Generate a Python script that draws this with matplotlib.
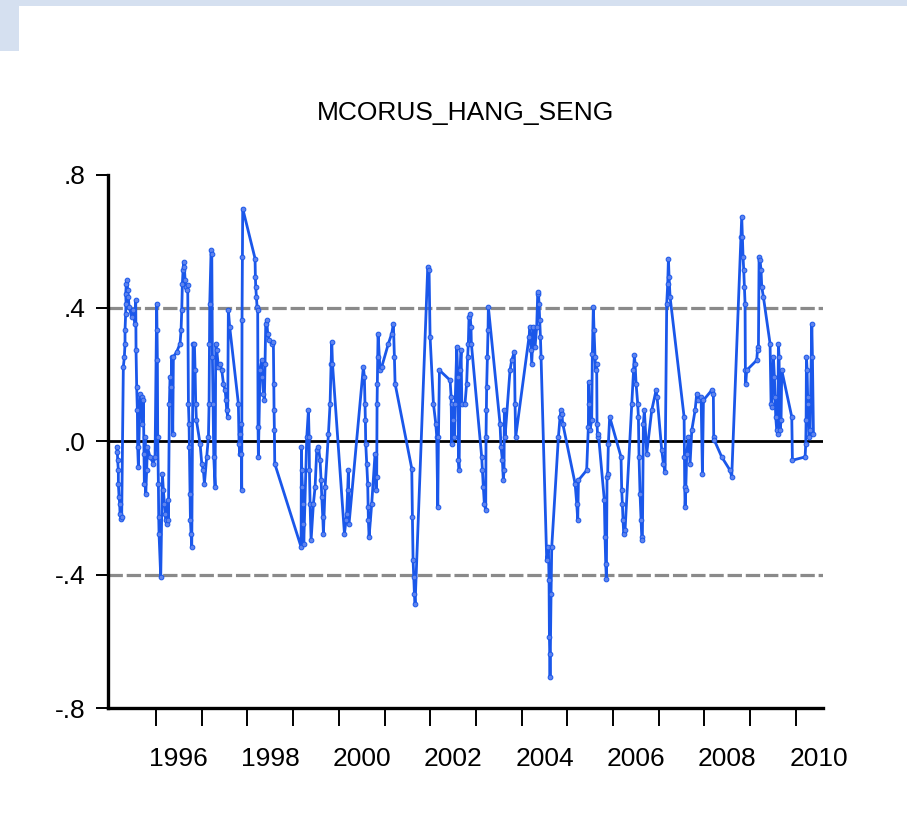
import matplotlib
matplotlib.use("Agg")
import matplotlib.pyplot as plt
from matplotlib.patches import Rectangle
from matplotlib.ticker import FixedLocator, NullFormatter

# MCORUS_HANG_SENG (decimal year, value)
t = [
    1995.139, 1995.154, 1995.161, 1995.176, 1995.176, 1995.191, 1995.205, 1995.212, 1995.234, 1995.249,
    1995.285, 1995.307, 1995.322, 1995.322, 1995.337, 1995.344, 1995.337, 1995.351, 1995.366, 1995.380,
    1995.395, 1995.410, 1995.468, 1995.504, 1995.541, 1995.556, 1995.563, 1995.577, 1995.592, 1995.599,
    1995.614, 1995.650, 1995.687, 1995.702, 1995.723, 1995.738, 1995.745, 1995.760, 1995.775, 1995.796,
    1995.811, 1995.869, 1995.942, 1995.979, 1996.015, 1996.023, 1996.030, 1996.037, 1996.052, 1996.059,
    1996.066, 1996.103, 1996.139, 1996.161, 1996.183, 1996.198, 1996.212, 1996.234, 1996.256, 1996.271,
    1996.293, 1996.307, 1996.329, 1996.344, 1996.366, 1996.380, 1996.453, 1996.526, 1996.548, 1996.563,
    1996.577, 1996.592, 1996.607, 1996.621, 1996.636, 1996.650, 1996.672, 1996.694, 1996.709, 1996.723,
    1996.730, 1996.745, 1996.753, 1996.767, 1996.782, 1996.811, 1996.840, 1996.855, 1996.869, 1996.884,
    1996.964, 1997.001, 1997.037, 1997.059, 1997.110, 1997.147, 1997.161, 1997.169, 1997.176, 1997.205,
    1997.220, 1997.234, 1997.249, 1997.264, 1997.293, 1997.307, 1997.329, 1997.366, 1997.402, 1997.439,
    1997.475, 1997.512, 1997.532, 1997.547, 1997.568, 1997.583, 1997.612, 1997.802, 1997.817, 1997.831,
    1997.839, 1997.853, 1997.868, 1997.875, 1997.882, 1997.890, 1997.897, 1998.167, 1998.174, 1998.182,
    1998.196, 1998.211, 1998.225, 1998.233, 1998.240, 1998.276, 1998.313, 1998.328, 1998.349, 1998.371,
    1998.386, 1998.401, 1998.422, 1998.444, 1998.474, 1998.532, 1998.568, 1998.576, 1998.583, 1998.590,
    1998.598, 1999.174, 1999.182, 1999.189, 1999.203, 1999.218, 1999.225, 1999.233, 1999.299, 1999.335,
    1999.350, 1999.357, 1999.371, 1999.393, 1999.444, 1999.481, 1999.517, 1999.554, 1999.590, 1999.612,
    1999.627, 1999.649, 1999.663, 1999.700, 1999.773, 1999.809, 1999.831, 1999.846, 1999.861, 2000.123,
    2000.158, 2000.172, 2000.194, 2000.209, 2000.224, 2000.537, 2000.559, 2000.574, 2000.581, 2000.589,
    2000.610, 2000.632, 2000.640, 2000.647, 2000.662, 2000.720, 2000.793, 2000.815, 2000.829, 2000.837,
    2000.844, 2000.851, 2000.859, 2000.902, 2000.939, 2001.085, 2001.158, 2001.194, 2001.216, 2001.231,
    2001.596, 2001.610, 2001.625, 2001.640, 2001.654, 2001.669, 2001.946, 2001.975, 2001.997, 2002.070,
    2002.121, 2002.143, 2002.165, 2002.180, 2002.202, 2002.435, 2002.457, 2002.472, 2002.486, 2002.508,
    2002.530, 2002.545, 2002.581, 2002.603, 2002.618, 2002.632, 2002.654, 2002.676, 2002.691, 2002.761,
    2002.797, 2002.819, 2002.834, 2002.849, 2002.870, 2002.892, 2002.900, 2003.126, 2003.141, 2003.162,
    2003.184, 2003.214, 2003.221, 2003.228, 2003.235, 2003.250, 2003.265, 2003.272, 2003.527, 2003.549,
    2003.579, 2003.600, 2003.615, 2003.622, 2003.637, 2003.746, 2003.783, 2003.841, 2003.856, 2003.870,
    2004.162, 2004.184, 2004.206, 2004.221, 2004.257, 2004.294, 2004.330, 2004.352, 2004.367, 2004.381,
    2004.396, 2004.411, 2004.425, 2004.549, 2004.586, 2004.600, 2004.608, 2004.615, 2004.622, 2004.644,
    2004.659, 2004.805, 2004.841, 2004.863, 2004.878, 2004.900, 2005.170, 2005.206, 2005.228, 2005.243,
    2005.423, 2005.460, 2005.467, 2005.482, 2005.496, 2005.533, 2005.548, 2005.569, 2005.584, 2005.606,
    2005.621, 2005.642, 2005.650, 2005.664, 2005.679, 2005.810, 2005.825, 2005.840, 2005.854, 2005.869,
    2005.883, 2005.898, 2005.927, 2006.175, 2006.190, 2006.204, 2006.219, 2006.234, 2006.263, 2006.409,
    2006.445, 2006.467, 2006.482, 2006.504, 2006.540, 2006.555, 2006.569, 2006.591, 2006.613, 2006.628,
    2006.642, 2006.664, 2006.686, 2006.737, 2006.847, 2006.942, 2006.964, 2007.066, 2007.102, 2007.139,
    2007.175, 2007.197, 2007.212, 2007.226, 2007.248, 2007.555, 2007.562, 2007.569, 2007.577, 2007.591,
    2007.613, 2007.650, 2007.686, 2007.723, 2007.796, 2007.832, 2007.869, 2007.927, 2007.956, 2007.978,
    2008.159, 2008.195, 2008.203, 2008.217, 2008.378, 2008.560, 2008.597, 2008.801, 2008.816, 2008.831,
    2008.845, 2008.860, 2008.874, 2008.889, 2008.896, 2008.904, 2008.925, 2009.144, 2009.166, 2009.181,
    2009.196, 2009.217, 2009.239, 2009.254, 2009.290, 2009.436, 2009.458, 2009.473, 2009.509, 2009.531,
    2009.546, 2009.560, 2009.582, 2009.604, 2009.619, 2009.633, 2009.655, 2009.677, 2009.692, 2009.911,
    2009.925, 2010.203, 2010.217, 2010.225, 2010.232, 2010.247, 2010.261, 2010.268, 2010.290, 2010.312,
    2010.349, 2010.363, 2010.385,
]
mcorus = [
    -0.017, -0.032, -0.057, -0.087, -0.127, -0.167, -0.187, -0.217, -0.232, -0.227,
    0.223, 0.253, 0.293, 0.333, 0.383, 0.413, 0.443, 0.473, 0.483, 0.453,
    0.433, 0.403, 0.373, 0.393, 0.353, 0.423, 0.273, 0.163, 0.093, -0.017,
    -0.077, 0.143, 0.133, 0.053, 0.123, -0.037, -0.127, 0.013, -0.157, -0.087,
    -0.017, -0.047, -0.067, -0.047, 0.413, 0.333, 0.243, 0.013, -0.127, -0.227,
    -0.277, -0.407, -0.097, -0.147, -0.187, -0.217, -0.237, -0.247, -0.177, -0.237,
    0.113, 0.193, 0.163, 0.253, 0.023, 0.253, 0.268, 0.293, 0.333, 0.393,
    0.473, 0.513, 0.538, 0.523, 0.483, 0.463, 0.453, 0.468, 0.113, 0.053,
    -0.017, -0.157, -0.237, -0.277, -0.317, 0.293, 0.293, 0.213, 0.113, 0.063,
    -0.007, -0.067, -0.087, -0.127, -0.047, 0.013, 0.113, 0.293, 0.413, 0.573,
    0.563, 0.253, 0.113, -0.047, -0.137, 0.293, 0.273, 0.223, 0.233, 0.213,
    0.173, 0.153, 0.123, 0.093, 0.073, 0.393, 0.343, 0.113, -0.007, -0.037,
    0.023, 0.053, -0.037, -0.147, 0.363, 0.553, 0.698, 0.548, 0.493, 0.463,
    0.433, 0.403, 0.393, 0.043, -0.047, 0.213, 0.243, 0.193, 0.143, 0.123,
    0.233, 0.353, 0.363, 0.323, 0.303, 0.293, 0.298, 0.173, 0.093, 0.033,
    -0.067, -0.317, -0.017, -0.087, -0.137, -0.187, -0.247, -0.307, 0.013, 0.093,
    0.013, -0.087, -0.187, -0.297, -0.187, -0.137, -0.027, -0.017, -0.057, -0.117,
    -0.167, -0.227, -0.277, -0.137, 0.023, 0.113, 0.233, 0.298, 0.233, -0.277,
    -0.237, -0.217, -0.147, -0.087, -0.247, 0.223, 0.193, 0.113, 0.063, -0.007,
    -0.067, -0.127, -0.197, -0.237, -0.287, -0.187, -0.037, -0.147, -0.107, 0.113,
    0.173, 0.253, 0.323, 0.213, 0.223, 0.293, 0.323, 0.353, 0.253, 0.173,
    -0.082, -0.227, -0.357, -0.407, -0.457, -0.487, 0.523, 0.513, 0.313, 0.113,
    0.053, 0.013, -0.197, 0.013, 0.213, 0.183, 0.133, -0.007, 0.113, 0.063,
    0.013, 0.113, 0.283, 0.193, -0.057, -0.087, 0.213, 0.273, 0.113, 0.113,
    0.173, 0.253, 0.293, 0.373, 0.383, 0.343, 0.293, -0.047, -0.087, -0.137,
    -0.187, -0.207, 0.013, 0.093, 0.163, 0.253, 0.333, 0.403, 0.053, -0.017,
    -0.057, -0.117, -0.087, 0.093, 0.013, 0.213, 0.243, 0.268, 0.113, 0.013,
    0.313, 0.343, 0.273, 0.233, 0.343, 0.283, 0.343, 0.443, 0.448, 0.413,
    0.363, 0.313, 0.253, -0.357, -0.317, -0.417, -0.587, -0.637, -0.707, -0.457,
    -0.317, 0.013, 0.073, 0.093, 0.083, 0.053, -0.127, -0.187, -0.237, -0.117,
    -0.087, 0.043, 0.178, 0.113, 0.033, 0.063, 0.263, 0.403, 0.333, 0.253,
    0.213, 0.233, 0.053, 0.013, 0.023, -0.177, -0.287, -0.367, -0.412, -0.107,
    -0.097, -0.007, 0.073, -0.047, -0.147, -0.187, -0.237, -0.277, -0.267, 0.113,
    0.213, 0.258, 0.233, 0.173, 0.113, 0.073, -0.047, -0.157, -0.237, -0.287,
    -0.297, 0.053, 0.093, -0.037, 0.093, 0.153, 0.133, -0.027, -0.067, -0.092,
    0.413, 0.473, 0.548, 0.493, 0.433, 0.073, -0.047, -0.137, -0.197, -0.147,
    -0.037, 0.013, -0.067, 0.033, 0.093, 0.143, 0.123, 0.133, -0.097, 0.123,
    0.153, 0.143, 0.013, 0.003, -0.047, -0.087, -0.107, 0.613, 0.673, 0.613,
    0.553, 0.513, 0.463, 0.413, 0.213, 0.173, 0.213, 0.243, 0.283, 0.273,
    0.553, 0.543, 0.513, 0.463, 0.433, 0.293, 0.113, 0.103, 0.253, 0.193,
    0.133, 0.073, 0.033, 0.023, 0.293, 0.253, 0.033, 0.063, 0.213, 0.073,
    -0.057, -0.047, -0.007, 0.063, 0.253, 0.213, 0.113, 0.133, 0.013, 0.033,
    0.353, 0.253, 0.023,
]

year_ticks = list(range(1996, 2011))
year_labels = ["1996", "1998", "2000", "2002", "2004", "2006", "2008", "2010"]
y_ticks = [-0.8, -0.4, 0.0, 0.4, 0.8]
y_labels = ["-.8", "-.4", ".0", ".4", ".8"]
title = "MCORUS_HANG_SENG"

FONT = ["Liberation Sans", "DejaVu Sans"]
BLUE = "#1a57ea"

fig = plt.figure(figsize=(9.07, 8.14), dpi=100)
fig.patch.set_facecolor("white")

# slide frame bits in the corner
fig.patches.append(Rectangle((0, 1 - 6 / 814), 1, 6 / 814, transform=fig.transFigure,
                             facecolor="#d5e0f0", edgecolor="none"))
fig.patches.append(Rectangle((0, 1 - 51 / 814), 19 / 907, 51 / 814, transform=fig.transFigure,
                             facecolor="#d5e0f0", edgecolor="none"))

ax = fig.add_axes([108.3 / 907, 106 / 814, 714.5 / 907, 533.5 / 814])
ax.set_xlim(1994.956, 2010.59)
ax.set_ylim(-0.8, 0.8)

for v in (0.4, -0.4):
    ax.axhline(v, color="#8a8a8a", lw=2.3, ls=(0, (4.5, 1.2)), zorder=1)
ax.axhline(0, color="black", lw=2.0, zorder=1)

ax.plot(t, mcorus, color=BLUE, lw=2.0, marker="o", ms=3.4,
        mfc="#5f84ee", mec=BLUE, mew=0.7, zorder=3)

for s in ("top", "right"):
    ax.spines[s].set_visible(False)
for s in ("left", "bottom"):
    ax.spines[s].set_linewidth(2.4)

ax.xaxis.set_major_locator(FixedLocator(year_ticks))
ax.xaxis.set_major_formatter(NullFormatter())
ax.xaxis.set_minor_locator(FixedLocator([int(y) + 0.5 for y in year_labels]))
ax.set_xticklabels(year_labels, minor=True, fontfamily=FONT, fontsize=19)
ax.tick_params(axis="x", which="major", length=13, width=1.4, direction="out")
ax.tick_params(axis="x", which="minor", length=0, pad=28)

ax.set_yticks(y_ticks)
ax.set_yticklabels(y_labels, fontfamily=FONT, fontsize=19)
ax.tick_params(axis="y", length=8.5, width=1.4, pad=8, direction="out")

fig.text(465.5 / 907, 1 - 120 / 814, title, ha="center", va="baseline",
         fontfamily=FONT, fontsize=19)

fig.savefig("out.png", dpi=100)
